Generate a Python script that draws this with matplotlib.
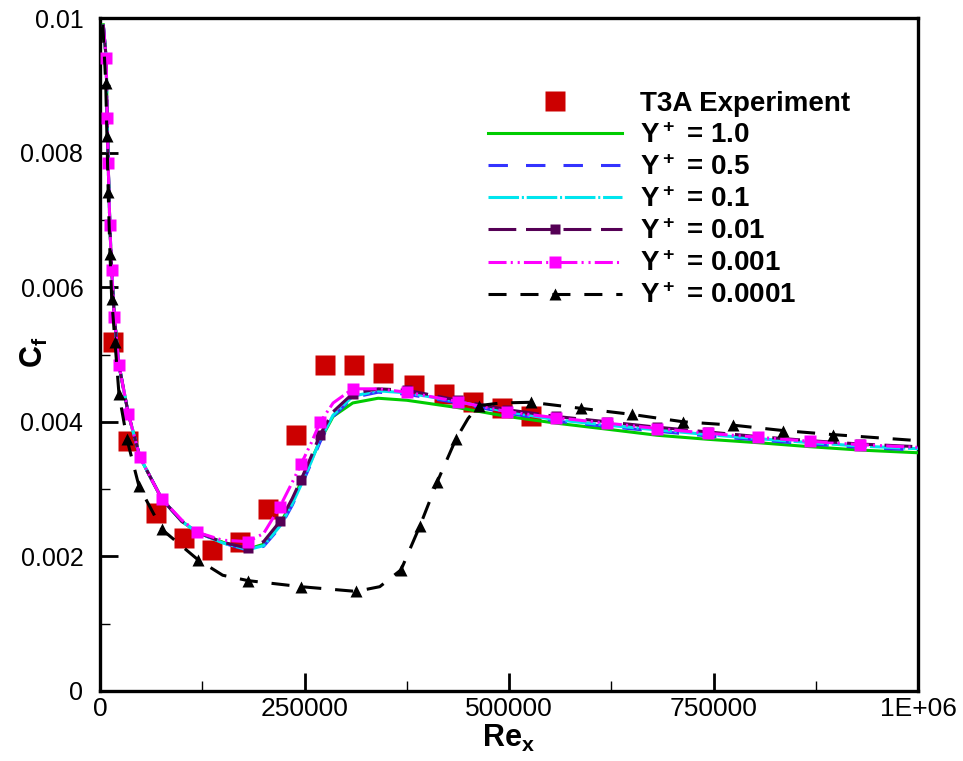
import matplotlib
matplotlib.use('Agg')
import matplotlib.pyplot as plt
from matplotlib.ticker import MultipleLocator

plt.rcParams['font.family'] = ['Liberation Sans', 'DejaVu Sans']
plt.rcParams['mathtext.default'] = 'regular'
plt.rcParams['lines.scale_dashes'] = False

# ---- T3A experiment
exp_re = [15900, 34200, 68500, 102700, 136900, 171200, 205400, 239600, 275000,
          310500, 346000, 383900, 420500, 456000, 491400, 526900]
exp_cf = [0.00519, 0.00372, 0.00264, 0.00227, 0.00209, 0.00222, 0.00270, 0.00380,
          0.00485, 0.00485, 0.00472, 0.00455, 0.00442, 0.00430, 0.00421, 0.00408]

# ---- simulations, Y+ = 1.0 ... 0.001 share one grid
re_sim = [4000, 7500, 8800, 10000, 12000, 14300, 17500, 23200, 34600, 48900,
          75800, 100000, 118600, 150000, 181000, 200000, 220000, 235000, 245700, 258000,
          269000, 285000, 309000, 340000, 375000, 437600, 497600, 557500, 620000, 681000,
          743000, 804000, 868000, 929000, 1000000]

cf_y1 = [0.0099, 0.00941, 0.00852, 0.00784, 0.00693, 0.00625, 0.00556, 0.00484, 0.00412, 0.00347,
         0.00285, 0.00252, 0.00236, 0.00221, 0.00211, 0.00218, 0.00248, 0.00282, 0.00310, 0.00342,
         0.00372, 0.00408, 0.00428, 0.00435, 0.00432, 0.00421, 0.00408, 0.00398, 0.00389, 0.00380,
         0.00374, 0.00369, 0.00363, 0.00358, 0.00354]
cf_y05 = [0.0099, 0.00941, 0.00852, 0.00784, 0.00693, 0.00625, 0.00556, 0.00484, 0.00412, 0.00347,
          0.00285, 0.00252, 0.00236, 0.00220, 0.00209, 0.00215, 0.00243, 0.00276, 0.00304, 0.00338,
          0.00370, 0.00408, 0.00436, 0.00444, 0.00441, 0.00428, 0.00413, 0.00401, 0.00393, 0.00386,
          0.00379, 0.00373, 0.00367, 0.00362, 0.00358]
cf_y01 = [0.0099, 0.00941, 0.00852, 0.00784, 0.00693, 0.00625, 0.00556, 0.00484, 0.00412, 0.00347,
          0.00285, 0.00252, 0.00236, 0.00220, 0.00210, 0.00216, 0.00245, 0.00278, 0.00306, 0.00340,
          0.00373, 0.00410, 0.00438, 0.00446, 0.00443, 0.00430, 0.00415, 0.00403, 0.00395, 0.00388,
          0.00381, 0.00375, 0.00369, 0.00364, 0.00360]
cf_y001 = [0.0099, 0.00941, 0.00852, 0.00784, 0.00693, 0.00625, 0.00556, 0.00484, 0.00412, 0.00347,
           0.00285, 0.00252, 0.00236, 0.00221, 0.00212, 0.00222, 0.00252, 0.00286, 0.00314, 0.00348,
           0.00381, 0.00415, 0.00442, 0.00449, 0.00447, 0.00432, 0.00418, 0.00408, 0.00400, 0.00392,
           0.00385, 0.00378, 0.00372, 0.00367, 0.00363]
cf_y0001 = [0.0099, 0.00941, 0.00852, 0.00784, 0.00693, 0.00625, 0.00556, 0.00484, 0.00412, 0.00347,
            0.00285, 0.00254, 0.00236, 0.00224, 0.00222, 0.00234, 0.00274, 0.00310, 0.00337, 0.00368,
            0.00399, 0.00428, 0.00449, 0.00449, 0.00444, 0.00430, 0.00415, 0.00406, 0.00398, 0.00390,
            0.00383, 0.00377, 0.00371, 0.00366, 0.00362]
sq_every = [1, 2, 3, 4, 5, 6, 7, 8, 9, 10, 12, 14, 16, 18, 20, 22, 24, 25, 26, 27, 28, 29, 30, 31, 32, 33]

# ---- Y+ = 0.0001 (own grid)
re_b = [3500, 7000, 8500, 10000, 12200, 14300, 18300, 23200, 33000, 47700,
        75800, 119800, 150000, 181000, 245700, 313000, 342000, 368000, 391000, 412000,
        435000, 450000, 463000, 490000, 527000, 588000, 650000, 713000, 774000, 835000,
        896000, 1000000]
cf_b = [0.0099, 0.00903, 0.00824, 0.00742, 0.00649, 0.00583, 0.00519, 0.00441, 0.00374, 0.00304,
        0.00240, 0.00195, 0.00172, 0.00164, 0.00155, 0.00148, 0.00155, 0.00180, 0.00245, 0.00310,
        0.00374, 0.00405, 0.00424, 0.00428, 0.00429, 0.00420, 0.00411, 0.00400, 0.00395, 0.00387,
        0.00381, 0.00372]
tri_every = [1, 2, 3, 4, 5, 6, 7, 8, 9, 10, 11, 13, 14, 15, 17, 18, 19, 20, 22, 24,
             25, 26, 27, 28, 29, 30]

fig = plt.figure(figsize=(9.63, 7.61), dpi=100)
ax = fig.add_axes([100/963, 70/761, 818/963, 673/761])

lw = 2.2
ax.plot(exp_re, exp_cf, 's', color='#cc0000', ms=14.5, mec='none',
        label='T3A Experiment', zorder=2)
ax.plot(re_sim, cf_y1, '-', color='#00cc00', lw=lw, label='Y$^+$ = 1.0', zorder=3)
ax.plot(re_sim, cf_y05, color='#3333ff', lw=lw, dashes=(14, 13),
        label='Y$^+$ = 0.5', zorder=3)
ax.plot(re_sim, cf_y01, color='#00e5ee', lw=lw, dashes=(22, 2, 1.5, 2),
        label='Y$^+$ = 0.1', zorder=3)
ax.plot(re_sim, cf_y001, color='#550055', lw=lw, dashes=(20, 7),
        marker='s', ms=7.5, mec='none', markevery=sq_every,
        label='Y$^+$ = 0.01', zorder=4)
ax.plot(re_sim, cf_y0001, color='#ff00ff', lw=lw, dashes=(13, 3, 1.5, 3.5, 1.5, 3),
        marker='s', ms=8, mec='none', markevery=sq_every,
        label='Y$^+$ = 0.001', zorder=5)
ax.plot(re_b, cf_b, color='black', lw=lw, dashes=(13, 10),
        marker='^', ms=8, mec='none', markevery=tri_every,
        label='Y$^+$ = 0.0001', zorder=6)

ax.set_xlim(0, 1000000)
ax.set_ylim(0, 0.01)

ax.set_xticks([0, 250000, 500000, 750000, 1000000])
ax.set_xticklabels(['0', '250000', '500000', '750000', '1E+06'], fontsize=19)
ax.set_yticks([0, 0.002, 0.004, 0.006, 0.008, 0.01])
ax.set_yticklabels(['0', '0.002', '0.004', '0.006', '0.008', '0.01'], fontsize=18)
ax.xaxis.set_minor_locator(MultipleLocator(125000))
ax.yaxis.set_minor_locator(MultipleLocator(0.001))
ax.tick_params(which='major', direction='in', length=13, width=2,
               top=False, right=False)
ax.tick_params(which='minor', direction='in', length=7, width=1,
               top=False, right=False)
ax.tick_params(axis='x', which='major', pad=4)
ax.tick_params(axis='y', which='major', pad=12)
for s in ax.spines.values():
    s.set_linewidth(2.4)

ax.set_xlabel('Re$_x$', fontsize=22, fontweight='bold')
ax.xaxis.set_label_coords(0.5, -0.048)
ax.set_ylabel('C$_f$', fontsize=22, fontweight='bold')
ax.yaxis.set_label_coords(-0.061, 0.504)

ax.legend(loc='upper left', bbox_to_anchor=(0.474, 0.892), frameon=False,
          prop={'family': 'Liberation Sans', 'weight': 'bold', 'size': 20},
          handlelength=4.82, handletextpad=0.65, labelspacing=0.22,
          borderpad=0, borderaxespad=0, numpoints=1)

fig.savefig('out.png', dpi=100)
